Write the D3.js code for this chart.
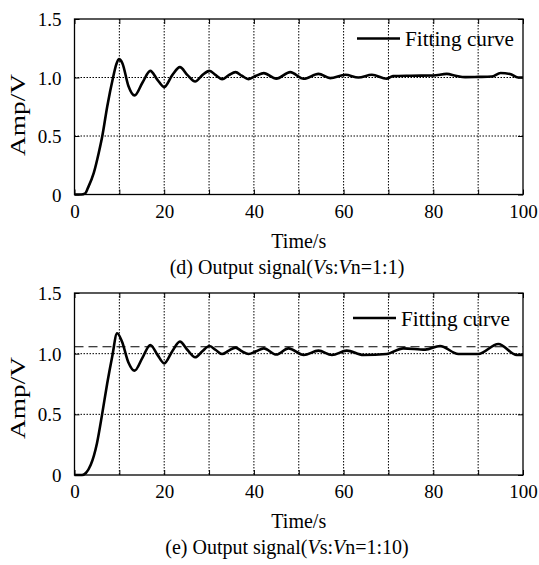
<!DOCTYPE html>
<html lang="en">
<head>
<meta charset="UTF-8">
<title>Output signal</title>
<style>
  body { margin: 0; background: #fff; }
  svg text { font-family: "Liberation Serif", "Times New Roman", serif; fill: #000; }
  .grid line { stroke: #000; stroke-width: 1; stroke-dasharray: 1.5,1.5; }
</style>
</head>
<body>
<div id="chart"></div>
<script src="https://cdnjs.cloudflare.com/ajax/libs/d3/7.8.5/d3.min.js"></script>
<script>
// panel (d): Vs:Vn = 1:1
var timeD = [0, 1.5, 2.4, 3.0, 4.3, 5.4, 6.2, 7.3, 8.6, 9.3, 9.9, 10.7, 12.0, 13.4, 15.2, 16.9, 18.5, 20.0,
  21.8, 23.5, 25.2, 26.9, 28.5, 30.1, 31.5, 32.9, 34.4, 35.9, 37.3, 38.8, 40.5, 42.2, 45.0, 48.1, 51.1,
  54.4, 57.0, 60.4, 63.3, 66.3, 69.6, 71.0, 75, 80, 83, 85, 87.1, 90, 93, 95, 97.1, 98.9, 100];
var ampD = [0, 0, 0.01, 0.057, 0.185, 0.355, 0.5, 0.753, 1.0, 1.11, 1.157, 1.12, 0.93, 0.847, 0.96, 1.057, 0.98, 0.918,
  1.02, 1.089, 1.02, 0.966, 1.02, 1.057, 1.02, 0.986, 1.02, 1.046, 1.015, 0.986, 1.015, 1.037, 0.99, 1.046, 0.989,
  1.031, 0.995, 1.023, 1.0, 1.023, 0.989, 1.012, 1.015, 1.017, 1.031, 1.015, 1.003, 1.005, 1.008, 1.038, 1.03, 1.0, 1.0];

// panel (e): Vs:Vn = 1:10
var timeE = [0, 1.7, 3.6, 5.0, 6.2, 7.3, 8.4, 9.5, 10.6, 12.0, 13.4, 15.2, 16.9, 18.5, 20.0, 21.8, 23.5, 25.2,
  26.9, 28.5, 30.1, 31.5, 32.9, 34.4, 35.9, 37.3, 38.8, 40.5, 42.2, 45.0, 47.7, 51.1, 54.4, 57.4, 60.7,
  64.4, 69.6, 73.3, 78.2, 81.5, 85.6, 90.0, 94.5, 98.6, 100];
var ampE = [0, 0, 0.082, 0.26, 0.51, 0.756, 0.975, 1.168, 1.099, 0.93, 0.86, 0.97, 1.072, 0.99, 0.92, 1.02, 1.099, 1.03,
  0.97, 1.02, 1.063, 1.03, 0.997, 1.025, 1.05, 1.02, 0.997, 1.02, 1.044, 0.993, 1.044, 0.989, 1.025, 0.989, 1.025,
  0.989, 0.997, 1.044, 1.033, 1.063, 0.997, 0.997, 1.08, 0.989, 0.99];
var refLineE = 1.057;

var xTicks = [0, 10, 20, 30, 40, 50, 60, 70, 80, 90, 100];
var xLabels = [0, 20, 40, 60, 80, 100];
var yTicks = [0, 0.5, 1.0, 1.5];
var legendText = "Fitting curve";
var xTitle = "Time/s";
var yTitle = "Amp/V";

var W = 539, H = 565;
var svg = d3.select("#chart").append("svg").attr("width", W).attr("height", H);

function drawPanel(p) {
  var x = d3.scaleLinear().domain([0, 100]).range([74.5, 523]);
  var y = d3.scaleLinear().domain([0, 1.5]).range([p.bottom, p.top]);
  var g = svg.append("g");

  // dotted grid
  var grid = g.append("g").attr("class", "grid");
  grid.selectAll(".vx").data(xTicks.slice(1, -1)).enter().append("line")
    .attr("x1", d => x(d)).attr("x2", d => x(d))
    .attr("y1", p.top).attr("y2", p.bottom);
  grid.selectAll(".hy").data(yTicks.slice(1, -1)).enter().append("line")
    .attr("x1", x(0)).attr("x2", x(100))
    .attr("y1", d => y(d)).attr("y2", d => y(d));

  // axes: inward ticks, labels only on some
  var xa = g.append("g").attr("transform", "translate(0," + p.bottom + ")")
    .call(d3.axisBottom(x).tickValues(xTicks).tickSizeInner(-5).tickSizeOuter(0).tickPadding(13)
      .tickFormat(d => xLabels.indexOf(d) >= 0 ? d : ""));
  g.append("g").attr("transform", "translate(0," + p.top + ")")
    .call(d3.axisTop(x).tickValues(xTicks).tickSizeInner(-5).tickSizeOuter(0).tickFormat(""));
  var ya = g.append("g").attr("transform", "translate(" + x(0) + ",0)")
    .call(d3.axisLeft(y).tickValues(yTicks).tickSizeInner(-5).tickSizeOuter(0).tickPadding(13)
      .tickFormat(d => d === 0 ? "0" : d3.format(".1f")(d)));
  g.append("g").attr("transform", "translate(" + x(100) + ",0)")
    .call(d3.axisRight(y).tickValues(yTicks).tickSizeInner(-5).tickSizeOuter(0).tickFormat(""));
  g.selectAll(".domain").remove();
  g.selectAll(".tick line").attr("stroke", "#000");
  xa.selectAll("text").attr("font-size", 19).attr("dy", "0.55em");
  ya.selectAll("text").attr("font-size", 19).attr("dy", "0.35em");

  // optional dashed reference line
  if (p.ref != null) {
    g.append("line")
      .attr("x1", x(0)).attr("x2", x(100))
      .attr("y1", y(p.ref)).attr("y2", y(p.ref))
      .attr("stroke", "#000").attr("stroke-width", 1.1).attr("stroke-dasharray", "9,5");
  }

  // curve
  var line = d3.line().x(d => x(d[0])).y(d => y(d[1])).curve(d3.curveMonotoneX);
  g.append("path")
    .datum(p.t.map((t, i) => [t, p.v[i]]))
    .attr("fill", "none").attr("stroke", "#000").attr("stroke-width", 2.6)
    .attr("stroke-linejoin", "round")
    .attr("d", line);

  // frame
  g.append("rect")
    .attr("x", x(0)).attr("y", p.top)
    .attr("width", x(100) - x(0)).attr("height", p.bottom - p.top)
    .attr("fill", "none").attr("stroke", "#000").attr("stroke-width", 1.3);

  // legend
  g.append("line")
    .attr("x1", p.legX).attr("x2", p.legX + 43)
    .attr("y1", p.legY).attr("y2", p.legY)
    .attr("stroke", "#000").attr("stroke-width", 2.6);
  g.append("text").attr("x", p.legX + 48).attr("y", p.legY + 7.5)
    .attr("font-size", 21).attr("textLength", 109).attr("lengthAdjust", "spacingAndGlyphs")
    .text(legendText);

  // axis titles
  g.append("text").attr("x", (x(0) + x(100)) / 2).attr("y", p.bottom + 53)
    .attr("text-anchor", "middle").attr("font-size", 20).text(xTitle);
  g.append("text")
    .attr("transform", "translate(25," + p.yTitleY + ") rotate(-90)")
    .attr("text-anchor", "middle").attr("font-size", 21)
    .attr("textLength", 82).attr("lengthAdjust", "spacingAndGlyphs")
    .text(yTitle);

  // caption
  var cap = g.append("text").attr("x", 287).attr("y", p.bottom + 79)
    .attr("text-anchor", "middle").attr("font-size", 20);
  cap.append("tspan").text("(" + p.letter + ") Output signal(");
  cap.append("tspan").attr("font-style", "italic").text("V");
  cap.append("tspan").text("s:");
  cap.append("tspan").attr("font-style", "italic").text("V");
  cap.append("tspan").text("n=" + p.ratio + ")");
}

drawPanel({ top: 19, bottom: 194.5, t: timeD, v: ampD, ref: null, legX: 357, legY: 38.5,
  yTitleY: 115, letter: "d", ratio: "1:1" });
drawPanel({ top: 293, bottom: 475, t: timeE, v: ampE, ref: refLineE, legX: 353, legY: 318,
  yTitleY: 398, letter: "e", ratio: "1:10" });
</script>
</body>
</html>
